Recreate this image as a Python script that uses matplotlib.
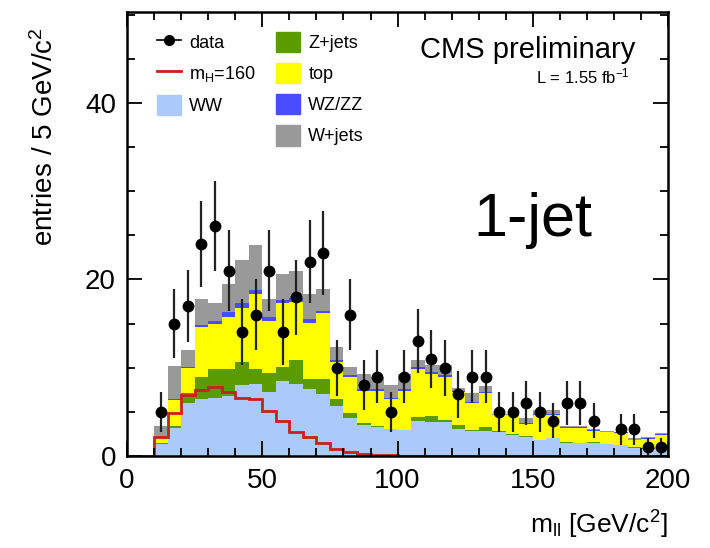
import numpy as np
import matplotlib
matplotlib.use('Agg')
import matplotlib.pyplot as plt
from matplotlib.lines import Line2D
from matplotlib.patches import Patch

plt.rcParams['font.family'] = ['Liberation Sans', 'DejaVu Sans']
plt.rcParams['mathtext.fontset'] = 'custom'
plt.rcParams['mathtext.rm'] = 'Liberation Sans'
plt.rcParams['mathtext.it'] = 'Liberation Sans:italic'

# 5 GeV bins from 0 to 200
edges = np.arange(0, 205, 5)

# background components (events per bin), bins 0-5 ... 195-200
ww = [0, 0, 1.3, 3.2, 6.0, 6.4, 6.55, 6.8, 8.0, 8.2, 7.3, 8.5, 8.2, 7.6, 7.0, 5.7, 4.3, 3.55, 3.3, 3.0,
      2.9, 4.0, 3.9, 3.9, 3.0, 2.85, 2.8, 2.7, 2.4, 2.2, 1.8, 2.0, 1.5, 1.45, 1.5, 1.3, 1.2, 0.95, 0.8, 1.0]
zjets = [0, 0, 0.2, 0.2, 1.1, 2.5, 3.25, 3.1, 2.6, 1.7, 2.05, 1.6, 2.7, 1.1, 1.7, 0.7, 0.6, 0.15, 0.1, 0.1,
         0.05, 0.4, 0.6, 0.15, 0.5, 0.05, 0.5, 0.1, 0.05, 0.05, 0.05, 0.05, 0.05, 0.05, 0.05, 0.05, 0.05, 0.05, 0.05, 0.05]
top = [0, 0, 0.6, 2.9, 2.9, 5.7, 5.1, 5.9, 6.2, 8.5, 5.95, 7.2, 6.6, 6.4, 7.5, 4.2, 4.1, 3.7, 4.0, 3.3,
       4.45, 5.5, 4.8, 4.95, 3.8, 3.1, 3.8, 1.8, 2.15, 1.35, 2.75, 2.55, 1.65, 1.7, 1.25, 1.35, 1.35, 0.75, 1.05, 1.35]
wzzz = [0, 0, 0.1, 0.15, 0.1, 0.2, 0.4, 0.5, 0.5, 0.4, 0.5, 0.4, 0.4, 0.4, 0.2, 0.3, 0.2, 0.2, 0.2, 0.2,
        0.2, 0.2, 0.2, 0.2, 0.1, 0.1, 0.1, 0.05, 0.05, 0.1, 0.1, 0.1, 0.1, 0.1, 0.1, 0.05, 0.1, 0.05, 0.1, 0.1]
wjets = [0, 0, 1.2, 3.75, 1.9, 3.0, 2.0, 3.2, 4.9, 5.1, 2.0, 2.9, 3.1, 2.9, 2.5, 1.4, 0.9, 1.7, 1.4, 1.4,
         1.7, 0.8, 0.8, 1.1, 0.3, 1.0, 0.7, 0.15, 0.15, 0.6, 0.5, 0.5, 0.05, 0.05, 0.2, 0.05, 0.05, 0.2, 0.2, 0.1]

# Higgs signal mH=160
higgs = [0, 0, 2.1, 4.85, 6.9, 7.5, 7.8, 7.2, 6.6, 6.4, 5.1, 4.0, 2.7, 2.1, 1.5, 0.8, 0.4, 0.2, 0.1, 0.05,
         0, 0, 0, 0, 0, 0, 0, 0, 0, 0, 0, 0, 0, 0, 0, 0, 0, 0, 0, 0]

# observed data
data = [0, 0, 5, 15, 17, 24, 26, 21, 14, 16, 21, 14, 18, 22, 23, 10, 16, 8, 9, 5,
        9, 13, 11, 10, 7, 9, 9, 5, 5, 6, 5, 4, 6, 6, 4, 0, 3, 3, 1, 1]

stack = [(ww, '#abc9fb', 'WW'),
         (zjets, '#5a9b00', 'Z+jets'),
         (top, '#ffff00', 'top'),
         (wzzz, '#4a4cff', 'WZ/ZZ'),
         (wjets, '#999999', 'W+jets')]

fig = plt.figure(figsize=(7.1, 5.48), dpi=100)
ax = fig.add_axes([0.179, 0.168, 0.762, 0.81])

bottom = np.zeros(len(edges) - 1)
for vals, col, name in stack:
    vals = np.array(vals)
    ax.stairs(bottom + vals, edges, baseline=bottom.copy(), fill=True, color=col, lw=0)
    bottom = bottom + vals

ax.stairs(higgs, edges, color='#c42318', lw=2)

centers = edges[:-1] + 2.5
d = np.array(data, dtype=float)
m = d > 0
ax.errorbar(centers[m], d[m], yerr=np.sqrt(d[m]), xerr=1.3, fmt='o', color='black',
            ms=7.5, ecolor='#222222', elinewidth=1.6, capsize=0)

ax.set_xlim(0, 200)
ax.set_ylim(0, 50.3)
ax.set_xticks([0, 50, 100, 150, 200])
ax.set_xticks(np.arange(0, 201, 10), minor=True)
ax.set_yticks([0, 20, 40])
ax.set_yticks(np.arange(0, 51, 5), minor=True)
ax.tick_params(which='both', direction='in', top=True, right=True, width=1.3, labelsize=20)
ax.tick_params(which='major', length=11)
ax.tick_params(which='minor', length=5.5)
ax.tick_params(axis='x', pad=9)
ax.tick_params(axis='y', pad=8)
for s in ax.spines.values():
    s.set_linewidth(1.8)

fig.text(0.063, 0.95, 'entries / 5 GeV/c$^{2}$', rotation=90, ha='center', va='top', fontsize=20)
fig.text(0.94, 0.042, r'm$_{\mathrm{ll}}$ [GeV/c$^{2}$]', ha='right', va='center', fontsize=19)

ax.text(0.74, 0.915, 'CMS preliminary', transform=ax.transAxes, ha='center', va='center', fontsize=21)
ax.text(0.93, 0.855, 'L = 1.55 fb$^{-1}$', transform=ax.transAxes, ha='right', va='center', fontsize=12)
ax.text(0.75, 0.53, '1-jet', transform=ax.transAxes, ha='center', va='center', fontsize=44)

handles = [Line2D([], [], color='black', marker='o', ms=7, lw=1.2),
           Line2D([], [], color='#c42318', lw=2),
           Patch(color=stack[0][1]),
           Patch(color='none'),
           Patch(color=stack[1][1]),
           Patch(color=stack[2][1]),
           Patch(color=stack[3][1]),
           Patch(color=stack[4][1])]
labels = ['data', 'm$_{\\mathrm{H}}$=160', 'WW', '', 'Z+jets', 'top', 'WZ/ZZ', 'W+jets']
ax.legend(handles, labels, ncol=2, loc='upper left', bbox_to_anchor=(0.055, 0.955), frameon=False,
          fontsize=13, handlelength=1.35, handleheight=1.35, handletextpad=0.45, labelspacing=0.6,
          columnspacing=1.1, borderpad=0, borderaxespad=0)

fig.savefig('out.png', dpi=100)
